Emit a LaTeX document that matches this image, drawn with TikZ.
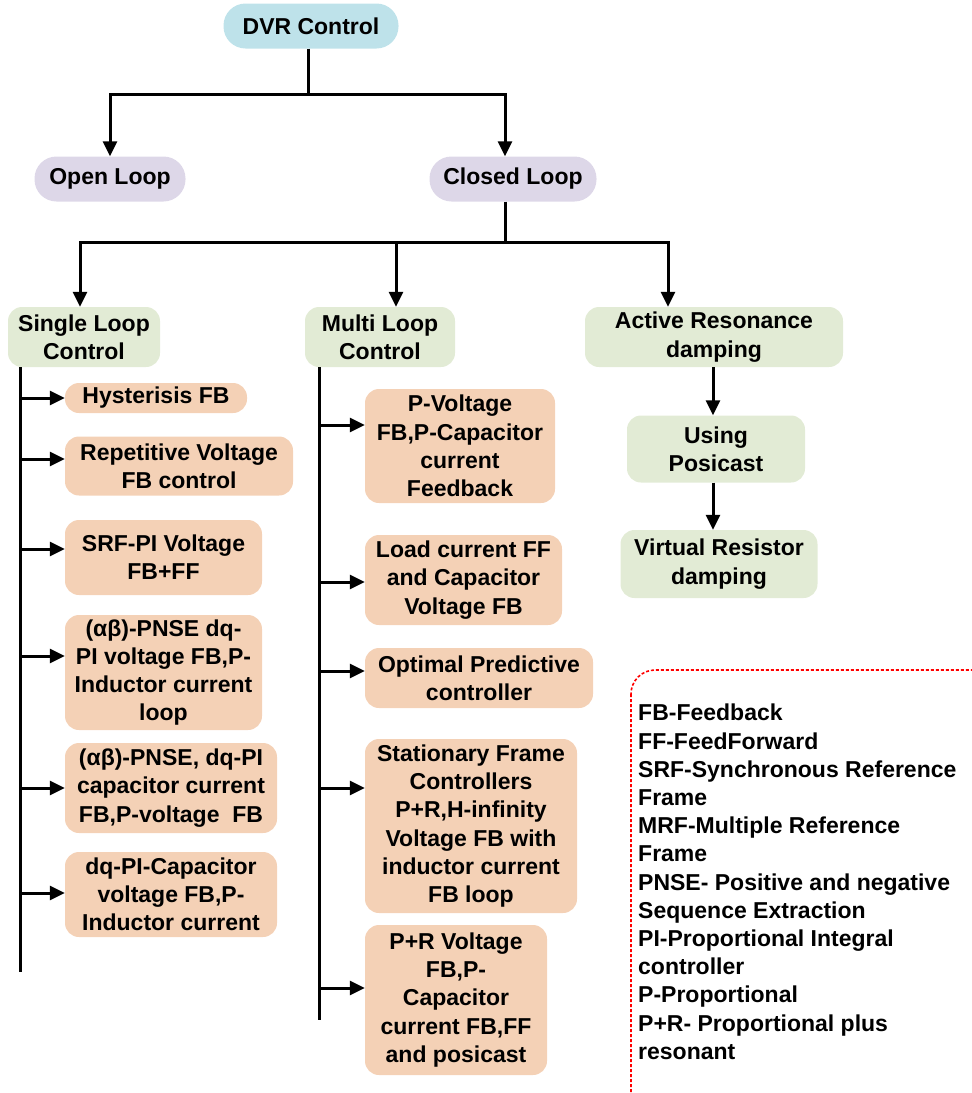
\documentclass[tikz,border=0pt]{standalone}
\usepackage{fontspec}
\setmainfont{Liberation Sans}
\usetikzlibrary{arrows.meta}
\definecolor{blueF}{RGB}{190,226,234}
\definecolor{lavF}{RGB}{221,215,232}
\definecolor{greenF}{RGB}{226,235,213}
\definecolor{peachF}{RGB}{244,209,182}
\begin{document}
\begin{tikzpicture}[x=1pt,y=-1pt,
  txt/.style={font=\fontsize{23}{28.2}\selectfont\bfseries},
  basebox/.style={txt, inner sep=0pt, align=center, draw=none, rounded corners=14pt},
  pillb/.style={basebox, rounded corners=22pt},
  bluebox/.style={pillb, fill=blueF},
  lavbox/.style={pillb, fill=lavF},
  greenbox/.style={basebox, fill=greenF},
  peachbox/.style={basebox, fill=peachF},
  ln/.style={line width=3pt},
  arr/.style={line width=3pt, -{Triangle[length=15pt,width=14pt]}},
  legendbox/.style={draw=red, line width=1.6pt, dash pattern=on 3pt off 2pt, rounded corners=24pt}
]
\useasboundingbox (0,0) rectangle (972,1093);

% top levels
\node[bluebox, minimum width=175pt, minimum height=45pt] (dvr) at (311,26) {DVR Control};
\node[lavbox, minimum width=151pt, minimum height=45pt] (open) at (110,179) {Open Loop};
\node[lavbox, minimum width=167pt, minimum height=45pt] (closed) at (513,179) {Closed Loop};

\coordinate (j1) at (308,94);
\coordinate (j2) at (505,242);
\draw[ln] (dvr.south -| j1) -- (j1);
\draw[arr] (j1) -| (open.north -| 110,0);
\draw[arr] (j1) -| (closed.north -| j2);
\draw[ln] (closed.south -| j2) -- (j2);

% second level
\node[greenbox, minimum width=152pt, minimum height=60pt] (single) at (84,337) {Single Loop\\Control};
\node[greenbox, minimum width=150pt, minimum height=60pt] (multi) at (380,337) {Multi Loop\\Control};
\node[greenbox, minimum width=258pt, minimum height=60pt] (active) at (714,337) {Active Resonance\\damping};

\draw[arr] (j2) -| (single.north -| 80,0);
\draw[arr] (j2) -| (multi.north -| 396,0);
\draw[arr] (j2) -| (active.north -| 668,0);

% active resonance column
\node[greenbox, minimum width=178pt, minimum height=67pt] (posi) at (716,449) {Using\\Posicast};
\node[greenbox, minimum width=197pt, minimum height=68pt] (virt) at (719,564) {Virtual Resistor\\damping};
\coordinate (ax) at (713,0);
\draw[arr] (active.south -| ax) -- (posi.north -| ax);
\draw[arr] (posi.south -| ax) -- (virt.north -| ax);

% single loop column
\node[peachbox, minimum width=182pt, minimum height=30pt] (s1) at (156,398) {Hysterisis FB};
\node[peachbox, minimum width=228pt, minimum height=59pt] (s2) at (179,466) {Repetitive Voltage\\FB control};
\node[peachbox, minimum width=197pt, minimum height=75pt] (s3) at (163.5,557.5) {SRF-PI Voltage\\FB+FF};
\node[peachbox, minimum width=197pt, minimum height=115pt] (s4) at (163.5,672.5) {(αβ)-PNSE dq-\\PI voltage FB,P-\\Inductor current\\loop};
\node[peachbox, minimum width=212pt, minimum height=90pt] (s5) at (171,788) {(αβ)-PNSE, dq-PI\\capacitor current\\FB,P-voltage\ \ FB};
\node[peachbox, minimum width=212pt, minimum height=85pt] (s6) at (171,894.5) {dq-PI-Capacitor\\voltage FB,P-\\Inductor current};

\coordinate (sp1) at (20,972);
\draw[ln] (single.south -| sp1) -- (sp1);
\coordinate (a1) at (65,398);
\coordinate (a2) at (65,459);
\coordinate (a3) at (65,549);
\coordinate (a4) at (65,656);
\coordinate (a5) at (65,788);
\coordinate (a6) at (65,893);
\foreach \i in {1,...,6} {\draw[arr] (sp1 |- a\i) -- (s\i.west |- a\i);}

% multi loop column
\node[peachbox, minimum width=190pt, minimum height=114pt] (m1) at (460,446) {P-Voltage\\FB,P-Capacitor\\current\\Feedback};
\node[peachbox, minimum width=197pt, minimum height=90pt] (m2) at (463.5,580) {Load current FF\\and Capacitor\\Voltage FB};
\node[peachbox, minimum width=228pt, minimum height=60pt] (m3) at (479,678) {Optimal Predictive\\controller};
\node[peachbox, minimum width=212pt, minimum height=174pt] (m4) at (471,826) {Stationary Frame\\Controllers\\P+R,H-infinity\\Voltage FB with\\inductor current\\FB loop};
\node[peachbox, minimum width=182pt, minimum height=150pt] (m5) at (456,1000) {P+R Voltage\\FB,P-\\Capacitor\\current FB,FF\\and posicast};

\coordinate (sp2) at (319,1020);
\draw[ln] (multi.south -| sp2) -- (sp2);
\coordinate (b1) at (365,425);
\coordinate (b2) at (365,582);
\coordinate (b3) at (365,671);
\coordinate (b4) at (365,788);
\coordinate (b5) at (365,988);
\foreach \i in {1,...,5} {\draw[arr] (sp2 |- b\i) -- (m\i.west |- b\i);}

% legend
\draw[legendbox] (631,670) rectangle (1000,1120);
\node[txt, align=left, anchor=north west, inner sep=0pt] (legend) at (638,704) {FB-Feedback\\FF-FeedForward\\SRF-Synchronous Reference\\Frame\\MRF-Multiple Reference\\Frame\\PNSE- Positive and negative\\Sequence Extraction\\PI-Proportional Integral\\controller\\P-Proportional\\P+R- Proportional plus\\resonant};
\end{tikzpicture}
\end{document}
